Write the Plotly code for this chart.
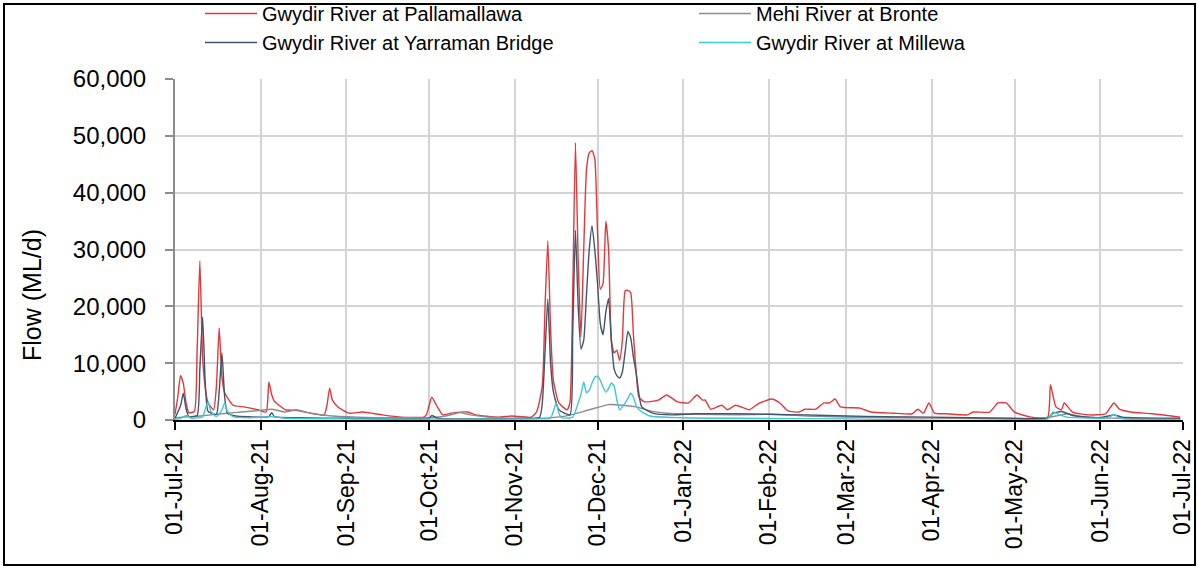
import plotly.graph_objects as go

# ---------------- data ----------------
pall_dates = [
    "2021-07-01", "2021-07-02", "2021-07-03", "2021-07-04", "2021-07-05", "2021-07-06", "2021-07-08",
    "2021-07-09", "2021-07-10", "2021-07-11", "2021-07-12", "2021-07-13", "2021-07-15", "2021-07-16",
    "2021-07-17", "2021-07-18", "2021-07-19", "2021-07-22", "2021-07-26", "2021-07-31", "2021-08-03",
    "2021-08-04", "2021-08-05", "2021-08-06", "2021-08-10", "2021-08-14", "2021-08-19", "2021-08-24",
    "2021-08-25", "2021-08-26", "2021-08-27", "2021-08-29", "2021-09-02", "2021-09-07", "2021-09-14",
    "2021-09-21", "2021-09-29", "2021-09-30", "2021-10-01", "2021-10-02", "2021-10-04", "2021-10-06",
    "2021-10-09", "2021-10-15", "2021-10-18", "2021-10-26", "2021-10-31", "2021-11-07", "2021-11-09",
    "2021-11-11", "2021-11-12", "2021-11-13", "2021-11-14", "2021-11-15", "2021-11-17", "2021-11-20",
    "2021-11-21", "2021-11-22", "2021-11-23", "2021-11-24", "2021-11-25", "2021-11-26", "2021-11-27",
    "2021-11-28", "2021-11-29", "2021-11-30", "2021-12-01", "2021-12-02", "2021-12-03", "2021-12-04",
    "2021-12-05", "2021-12-06", "2021-12-07", "2021-12-08", "2021-12-09", "2021-12-10", "2021-12-11",
    "2021-12-12", "2021-12-13", "2021-12-14", "2021-12-15", "2021-12-16", "2021-12-18", "2021-12-23",
    "2021-12-26", "2021-12-30", "2022-01-03", "2022-01-06", "2022-01-08", "2022-01-09", "2022-01-11",
    "2022-01-15", "2022-01-17", "2022-01-20", "2022-01-25", "2022-01-28", "2022-02-02", "2022-02-05",
    "2022-02-08", "2022-02-12", "2022-02-14", "2022-02-18", "2022-02-21", "2022-02-23", "2022-02-25",
    "2022-02-27", "2022-03-06", "2022-03-10", "2022-03-18", "2022-03-25", "2022-03-27", "2022-03-29",
    "2022-03-31", "2022-04-02", "2022-04-06", "2022-04-14", "2022-04-16", "2022-04-22", "2022-04-25",
    "2022-04-28", "2022-05-01", "2022-05-07", "2022-05-13", "2022-05-14", "2022-05-16", "2022-05-18",
    "2022-05-19", "2022-05-22", "2022-05-28", "2022-06-03", "2022-06-06", "2022-06-08", "2022-06-12",
    "2022-06-20", "2022-06-30",
]
pall_flow = [
    1000, 4000, 7800, 6500, 3000, 1300, 1500,
    12000, 28000, 11000, 5500, 3000, 1800, 6000,
    16200, 7500, 4800, 2600, 2300, 1800, 1400,
    6700, 4500, 3300, 1800, 1700, 1200, 900,
    2500, 5600, 3500, 2300, 1200, 1400, 900,
    500, 500, 900, 2500, 4000, 2300, 900,
    1200, 1400, 900, 500, 700, 500, 1500,
    6000, 20000, 31500, 16000, 7000, 3000, 1800,
    3000, 22000, 48800, 28000, 14600, 30000, 44000,
    47000, 47400, 46000, 33000, 23000, 24000, 35000,
    30000, 14000, 11800, 12300, 10500, 14000, 22700,
    22800, 22400, 15000, 8300, 4000, 3200, 3500,
    4400, 3200, 3000, 4400, 3500, 3500, 1900,
    2600, 1800, 2600, 1800, 2800, 3700, 3000,
    1600, 1400, 1900, 1900, 3000, 3000, 3700,
    2300, 2100, 1400, 1200, 1100, 1900, 1200,
    3000, 1200, 1100, 900, 1400, 1400, 3000,
    3000, 1400, 500, 500, 6200, 2300, 1800,
    3000, 1400, 900, 1100, 3000, 1900, 1400,
    1100, 500,
]

mehi_dates = [
    "2021-07-01", "2021-07-10", "2021-07-20", "2021-07-25", "2021-08-01", "2021-08-05", "2021-08-10",
    "2021-08-14", "2021-08-18", "2021-08-25", "2021-09-05", "2021-09-20", "2021-10-01", "2021-10-08",
    "2021-10-12", "2021-10-16", "2021-10-25", "2021-11-10", "2021-11-18", "2021-11-22", "2021-11-28",
    "2021-12-05", "2021-12-10", "2021-12-15", "2021-12-20", "2021-12-26", "2022-01-05", "2022-01-20",
    "2022-02-01", "2022-02-15", "2022-03-01", "2022-03-20", "2022-04-10", "2022-05-10", "2022-05-16",
    "2022-05-20", "2022-05-26", "2022-06-10", "2022-06-30",
]
mehi_flow = [
    400, 700, 1200, 1400, 1700, 1900, 1400,
    1800, 1300, 800, 500, 400, 400, 800,
    1300, 900, 400, 300, 600, 1000, 1800,
    2700, 2600, 2300, 1600, 1200, 1000, 900,
    1000, 700, 500, 400, 300, 200, 700,
    1100, 500, 300, 200,
]

yarr_dates = [
    "2021-07-01", "2021-07-03", "2021-07-04", "2021-07-05", "2021-07-06", "2021-07-09", "2021-07-10",
    "2021-07-11", "2021-07-12", "2021-07-13", "2021-07-16", "2021-07-17", "2021-07-18", "2021-07-19",
    "2021-07-20", "2021-07-23", "2021-08-01", "2021-08-04", "2021-08-05", "2021-08-06", "2021-08-15",
    "2021-09-01", "2021-10-01", "2021-10-02", "2021-10-04", "2021-11-01", "2021-11-10", "2021-11-11",
    "2021-11-12", "2021-11-13", "2021-11-14", "2021-11-15", "2021-11-17", "2021-11-21", "2021-11-22",
    "2021-11-23", "2021-11-24", "2021-11-25", "2021-11-26", "2021-11-27", "2021-11-28", "2021-11-29",
    "2021-11-30", "2021-12-01", "2021-12-02", "2021-12-03", "2021-12-04", "2021-12-05", "2021-12-06",
    "2021-12-07", "2021-12-08", "2021-12-09", "2021-12-10", "2021-12-11", "2021-12-12", "2021-12-13",
    "2021-12-14", "2021-12-15", "2021-12-16", "2021-12-17", "2021-12-21", "2021-12-28", "2022-01-05",
    "2022-01-20", "2022-02-01", "2022-02-15", "2022-03-01", "2022-03-15", "2022-04-01", "2022-05-01",
    "2022-05-13", "2022-05-15", "2022-05-18", "2022-05-22", "2022-06-01", "2022-06-06", "2022-06-09",
    "2022-06-30",
]
yarr_flow = [
    300, 2500, 4700, 2000, 600, 800, 9000,
    18100, 6000, 1500, 1000, 5000, 11800, 4000,
    1200, 700, 500, 600, 1300, 600, 400,
    300, 300, 800, 300, 250, 500, 3000,
    12000, 21300, 10000, 5000, 1800, 900, 15000,
    33400, 20000, 12500, 14000, 22000, 30000, 34200,
    30000, 24000, 17000, 15000, 19000, 21400, 14000,
    9000, 7800, 7400, 8500, 12000, 15600, 14500,
    11000, 8300, 4500, 2300, 1200, 900, 1100,
    1100, 1000, 900, 700, 600, 500, 300,
    300, 1200, 1500, 800, 400, 900, 500,
    300,
]

mill_dates = [
    "2021-07-01", "2021-07-03", "2021-07-05", "2021-07-07", "2021-07-11", "2021-07-12", "2021-07-13",
    "2021-07-14", "2021-07-16", "2021-07-18", "2021-07-19", "2021-07-20", "2021-07-22", "2021-07-28",
    "2021-08-05", "2021-08-10", "2021-09-01", "2021-10-01", "2021-11-12", "2021-11-14", "2021-11-15",
    "2021-11-16", "2021-11-17", "2021-11-18", "2021-11-22", "2021-11-24", "2021-11-25", "2021-11-26",
    "2021-11-27", "2021-11-28", "2021-11-29", "2021-11-30", "2021-12-01", "2021-12-02", "2021-12-03",
    "2021-12-04", "2021-12-05", "2021-12-06", "2021-12-07", "2021-12-08", "2021-12-09", "2021-12-11",
    "2021-12-12", "2021-12-13", "2021-12-14", "2021-12-15", "2021-12-16", "2021-12-20", "2021-12-31",
    "2022-01-20", "2022-03-01", "2022-05-13", "2022-05-15", "2022-05-17", "2022-05-20", "2022-06-04",
    "2022-06-06", "2022-06-08", "2022-06-30",
]
mill_flow = [
    100, 300, 800, 300, 600, 2000, 3200,
    1500, 600, 1800, 3000, 1500, 600, 400,
    600, 300, 200, 150, 200, 300, 1500,
    3000, 1200, 400, 500, 3000, 4500, 6700,
    4800, 5200, 6500, 7500, 7700, 7000, 5800,
    4900, 5500, 6500, 6000, 3500, 1800, 3000,
    3800, 4700, 4000, 2500, 1800, 700, 400,
    300, 200, 200, 1400, 1000, 500, 400,
    1000, 300, 100,
]

series_names = [
    "Gwydir River at Pallamallawa",
    "Mehi River at Bronte",
    "Gwydir River at Yarraman Bridge",
    "Gwydir River at Millewa",
]
series_colors = ["#E2383C", "#8C8C8C", "#44546A", "#3EC6DA"]

y_title = "Flow (ML/d)"
x_start, x_end = "2021-07-01", "2022-07-01"

FONT = "Liberation Sans, Arial, sans-serif"

# ---------------- figure ----------------
fig = go.Figure()
for name, color, xs, ys in zip(
    series_names,
    series_colors,
    [pall_dates, mehi_dates, yarr_dates, mill_dates],
    [pall_flow, mehi_flow, yarr_flow, mill_flow],
):
    fig.add_trace(
        go.Scatter(
            x=xs,
            y=ys,
            mode="lines",
            name=name,
            line=dict(color=color, width=1.4, shape="spline", smoothing=0.5),
        )
    )

L, R, T, B = 175, 15, 79, 148
W, H = 1198, 568
pw, ph = W - L - R, H - T - B

fig.update_layout(
    width=W,
    height=H,
    margin=dict(l=L, r=R, t=T, b=B, autoexpand=False),
    paper_bgcolor="white",
    plot_bgcolor="white",
    font=dict(family=FONT, color="black"),
    showlegend=True,
    legend=dict(
        orientation="h",
        x=(200 - L) / pw,
        xanchor="left",
        y=(H - B + 6) / ph,
        yanchor="top",
        font=dict(family=FONT, size=20, color="black"),
        itemwidth=52,
        entrywidth=427,
        entrywidthmode="pixels",
        bgcolor="rgba(0,0,0,0)",
        traceorder="normal",
    ),
    xaxis=dict(
        type="date",
        range=[x_start, x_end],
        tick0=x_start,
        dtick="M1",
        tickformat="%d-%b-%y",
        tickangle=-90,
        ticks="outside",
        ticklen=8,
        tickwidth=1.5,
        tickcolor="black",
        showline=True,
        linecolor="black",
        linewidth=2,
        showgrid=True,
        gridcolor="#D4D4D4",
        gridwidth=1.5,
        zeroline=False,
        tickfont=dict(family=FONT, size=23, color="black"),
    ),
    yaxis=dict(
        range=[0, 60000],
        tick0=0,
        dtick=10000,
        tickformat=",",
        ticks="outside",
        ticklen=8,
        tickwidth=1.5,
        tickcolor="#8C8C8C",
        showline=True,
        linecolor="#8C8C8C",
        linewidth=2,
        showgrid=True,
        gridcolor="#D4D4D4",
        gridwidth=1.5,
        zeroline=False,
        ticklabelstandoff=14,
        tickfont=dict(family=FONT, size=24, color="black"),
    ),
)

# y-axis title (placed as in the reference, a little below the axis centre)
fig.add_annotation(
    text=y_title,
    xref="paper",
    yref="paper",
    x=(32 - L) / pw,
    y=(H - B - 295) / ph,
    xanchor="center",
    yanchor="middle",
    textangle=-90,
    showarrow=False,
    font=dict(family=FONT, size=25, color="black"),
)

# outer border of the chart
fig.add_shape(
    type="rect",
    xref="paper",
    yref="paper",
    x0=(4 - L) / pw,
    x1=(W - 3 - L) / pw,
    y0=(H - B - (H - 3)) / ph,
    y1=(H - B - 4) / ph,
    line=dict(color="black", width=2),
    fillcolor="rgba(0,0,0,0)",
    layer="above",
)

fig.write_html(
    "out.html",
    config={"displayModeBar": False},
    post_script="document.body.style.margin='0';document.body.style.overflow='hidden';",
)
